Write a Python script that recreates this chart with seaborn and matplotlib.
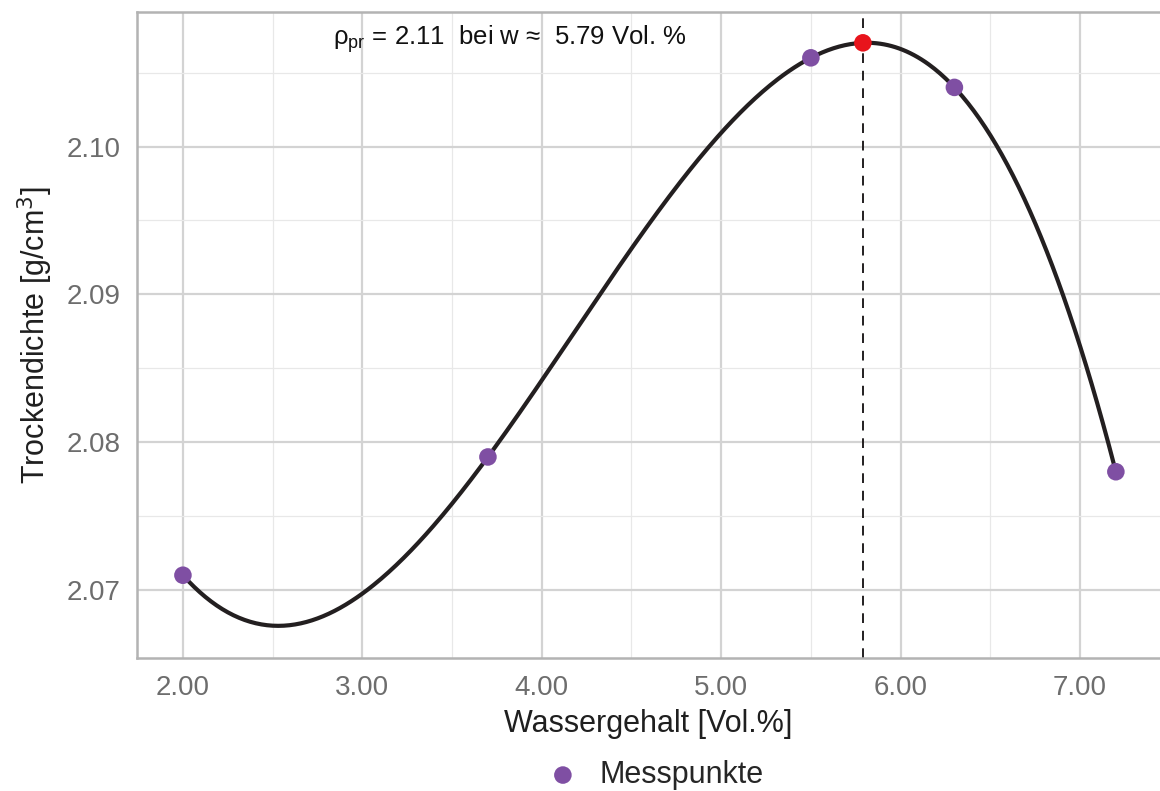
import numpy as np
import pandas as pd
import seaborn as sns
import matplotlib.pyplot as plt
from matplotlib.ticker import MultipleLocator, FormatStrFormatter

# Messpunkte (Proctorversuch)
wassergehalt = [2.0, 3.7, 5.5, 6.3, 7.2]
trockendichte = [2.071, 2.079, 2.106, 2.104, 2.078]

# Proctoroptimum as stated in the chart
w_opt = 5.79
rho_pr = 2.11

df = pd.DataFrame({'w': wassergehalt, 'rho': trockendichte})


def cubic_spline(x, y, xs):
    # not-a-knot cubic spline, piece i: a + b*t + c*t^2 + d*t^3
    x = np.asarray(x, float)
    y = np.asarray(y, float)
    n = len(x) - 1
    A = np.zeros((4 * n, 4 * n))
    b = np.zeros(4 * n)
    r = 0
    for i in range(n):
        h = x[i + 1] - x[i]
        A[r, 4 * i] = 1
        b[r] = y[i]
        r += 1
        A[r, 4 * i:4 * i + 4] = [1, h, h ** 2, h ** 3]
        b[r] = y[i + 1]
        r += 1
    for i in range(n - 1):
        h = x[i + 1] - x[i]
        A[r, 4 * i:4 * i + 4] = [0, 1, 2 * h, 3 * h ** 2]
        A[r, 4 * (i + 1) + 1] = -1
        r += 1
        A[r, 4 * i:4 * i + 4] = [0, 0, 2, 6 * h]
        A[r, 4 * (i + 1) + 2] = -2
        r += 1
    A[r, 3] = 1
    A[r, 7] = -1
    r += 1
    A[r, 4 * (n - 2) + 3] = 1
    A[r, 4 * (n - 1) + 3] = -1
    co = np.linalg.solve(A, b).reshape(n, 4)
    xs = np.asarray(xs, float)
    idx = np.clip(np.searchsorted(x, xs) - 1, 0, n - 1)
    t = xs - x[idx]
    return co[idx, 0] + co[idx, 1] * t + co[idx, 2] * t ** 2 + co[idx, 3] * t ** 3


w_fit = np.linspace(min(wassergehalt), max(wassergehalt), 500)
df_fit = pd.DataFrame({'w': w_fit, 'rho': cubic_spline(wassergehalt, trockendichte, w_fit)})
rho_opt = float(cubic_spline(wassergehalt, trockendichte, [w_opt])[0])

sns.set_theme(style='white')
plt.rcParams['font.family'] = ['Liberation Sans', 'DejaVu Sans']

fig = plt.figure(figsize=(11.6, 7.91), dpi=100)
ax = fig.add_axes([137 / 1160, 133 / 791, 1 - 137 / 1160, 646 / 791])

sns.lineplot(data=df_fit, x='w', y='rho', color='#231f20', linewidth=3, ax=ax, zorder=3)
sns.scatterplot(data=df, x='w', y='rho', color='#7f4fa3', s=160, edgecolor='none',
                label='Messpunkte', ax=ax, zorder=4)
ax.scatter([w_opt], [rho_opt], color='#e8141c', s=160, edgecolor='none', zorder=5)
ax.axvline(w_opt, color='#231f20', linestyle=(0, (5, 4)), linewidth=1.4, zorder=2)

ax.text(3.823, 2.10724, 'ρ$_{\\mathregular{pr}}$' + f' = {rho_pr:.2f}  bei w \u2248  {w_opt:.2f} Vol. %',
        ha='center', va='center', fontsize=18.5, color='#111111')

ax.set_xlim(1.744, 7.446)
ax.set_ylim(2.0654, 2.1091)
ax.xaxis.set_major_locator(MultipleLocator(1))
ax.xaxis.set_minor_locator(MultipleLocator(0.5))
ax.yaxis.set_major_locator(MultipleLocator(0.01))
ax.yaxis.set_minor_locator(MultipleLocator(0.005))
ax.xaxis.set_major_formatter(FormatStrFormatter('%.2f'))
ax.yaxis.set_major_formatter(FormatStrFormatter('%.2f'))

ax.grid(which='major', color='#d3d3d3', linewidth=1.6)
ax.grid(which='minor', color='#e8e8e8', linewidth=0.9)
ax.set_axisbelow(True)

for side in ['left', 'top', 'bottom']:
    ax.spines[side].set_color('#b3b3b3')
    ax.spines[side].set_linewidth(1.8)
ax.spines['right'].set_visible(False)

ax.tick_params(axis='both', which='both', length=0, labelsize=20, labelcolor='#6d6d6d', pad=12)
ax.set_xlabel('Wassergehalt [Vol.%]', fontsize=22, color='#1f1f1f', labelpad=6)
ax.set_ylabel(r'Trockendichte [g/cm$^3$]', fontsize=22, color='#1f1f1f', labelpad=8)

ax.legend(loc='upper center', bbox_to_anchor=((648 - 137) / (1160 - 137), -0.158),
          frameon=False, fontsize=22, handletextpad=0.2, markerscale=1.0,
          borderaxespad=0, borderpad=0)

fig.savefig('out.png', dpi=100)
